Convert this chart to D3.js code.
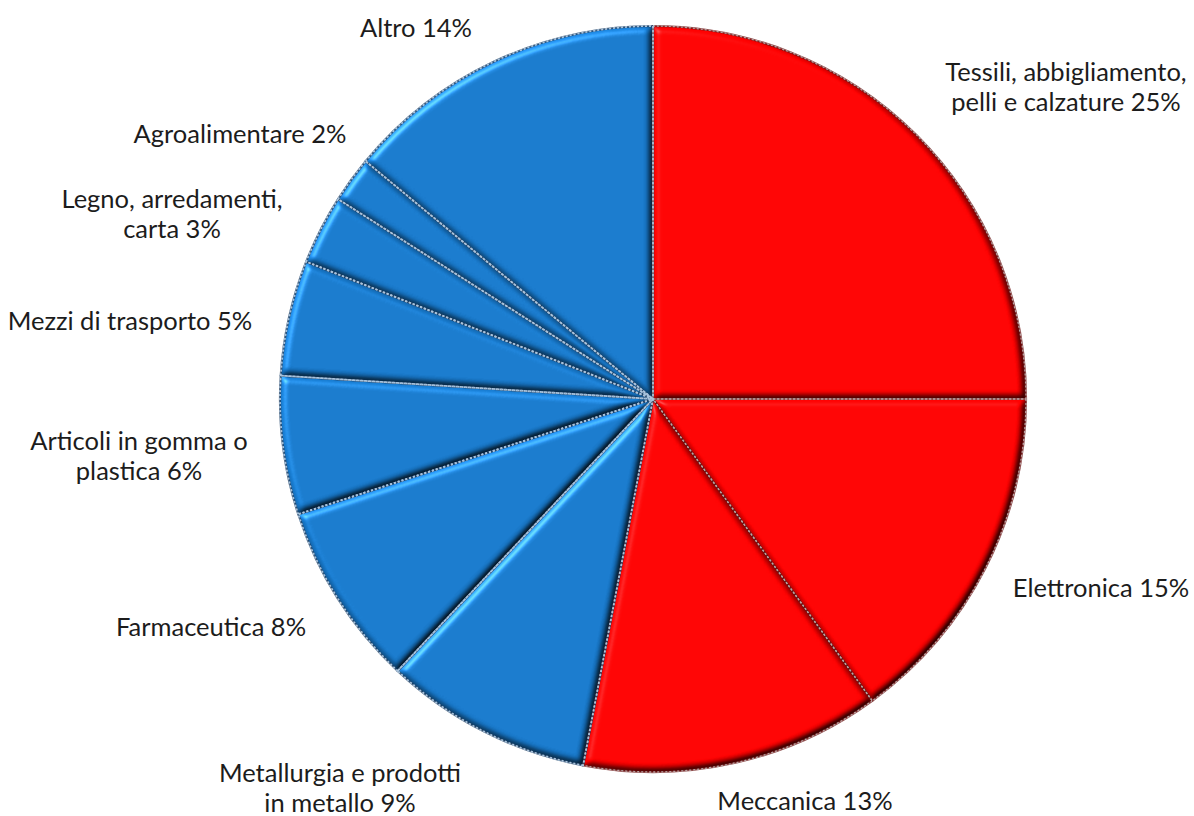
<!DOCTYPE html>
<html>
<head>
<meta charset="utf-8">
<script src="https://cdn.jsdelivr.net/npm/d3@7"></script>
<style>
  html, body { margin: 0; padding: 0; background: #fff; }
  svg { display: block; }
  .lbl { font-family: Lato, "Open Sans", sans-serif; font-size: 25.5px; fill: #1c1c1c; }
</style>
</head>
<body>
<svg id="chart" width="1194" height="816"></svg>
<script>
// Sector shares (%), clockwise from 12 o'clock
const categories = [
  "Tessili, abbigliamento, pelli e calzature",
  "Elettronica",
  "Meccanica",
  "Metallurgia e prodotti in metallo",
  "Farmaceutica",
  "Articoli in gomma o plastica",
  "Mezzi di trasporto",
  "Legno, arredamenti, carta",
  "Agroalimentare",
  "Altro"
];
const values = [25, 15, 13, 9, 8, 6, 5, 3, 2, 14];
const groups = ["A", "A", "A", "B", "B", "B", "B", "B", "B", "B"];

// Label text lines for each slice
const labelLines = [
  ["Tessili, abbigliamento,", "pelli e calzature  25%"],
  ["Elettronica 15%"],
  ["Meccanica 13%"],
  ["Metallurgia e prodotti", "in metallo 9%"],
  ["Farmaceutica 8%"],
  ["Articoli in gomma  o", "plastica 6%"],
  ["Mezzi di trasporto  5%"],
  ["Legno, arredamenti,", "carta 3%"],
  ["Agroalimentare 2%"],
  ["Altro 14%"]
];

// Label placement: [x centre, first baseline] in page pixels
const labelLayout = [
  [1066, 81], [1101, 597], [805, 810], [340, 782], [211, 636],
  [139, 450], [130, 330], [172, 208], [240, 143], [416, 37]
];
const lineStep = 30;

const width = 1194, height = 816;
const cx = 653, cy = 399, radius = 373;

const color = d3.scaleOrdinal().domain(["A", "B"]).range(["#ff0000", "#1677c9"]);
const edgeDark = d3.scaleOrdinal().domain(["A", "B"]).range(["#6e1414", "#1d3f63"]);
const edgeLight = d3.scaleOrdinal().domain(["A", "B"]).range(["#b9a3a3", "#a9c3dc"]);
const seamWidth = d3.scaleOrdinal().domain(["A", "B"]).range([1.3, 1.8]);

const svg = d3.select("#chart");
const defs = svg.append("defs");

// Bevel: shaded by the blurred alpha of each slice, with a soft specular rim
const f = defs.append("filter").attr("id", "bevel")
  .attr("x", "-5%").attr("y", "-5%").attr("width", "110%").attr("height", "110%")
  .attr("color-interpolation-filters", "sRGB");
f.append("feGaussianBlur").attr("in", "SourceAlpha").attr("stdDeviation", 3.5).attr("result", "blur");
f.append("feDiffuseLighting").attr("in", "blur").attr("surfaceScale", 5)
  .attr("diffuseConstant", 1).attr("lighting-color", "#fff").attr("result", "diff")
  .append("feDistantLight").attr("azimuth", 225).attr("elevation", 55);
f.append("feComposite").attr("in", "SourceGraphic").attr("in2", "diff")
  .attr("operator", "arithmetic").attr("k1", 1.22).attr("k2", 0).attr("k3", 0).attr("k4", 0)
  .attr("result", "shaded");
f.append("feSpecularLighting").attr("in", "blur").attr("surfaceScale", 5)
  .attr("specularConstant", 0.55).attr("specularExponent", 22)
  .attr("lighting-color", "#fff").attr("result", "spec")
  .append("feDistantLight").attr("azimuth", 225).attr("elevation", 35);
f.append("feComposite").attr("in", "spec").attr("in2", "SourceAlpha")
  .attr("operator", "in").attr("result", "specIn");
f.append("feComposite").attr("in", "shaded").attr("in2", "specIn")
  .attr("operator", "arithmetic").attr("k1", 0).attr("k2", 1).attr("k3", 0.55).attr("k4", 0)
  .attr("result", "lit");
f.append("feComposite").attr("in", "lit").attr("in2", "SourceAlpha").attr("operator", "in");

const pie = d3.pie().sort(null).value(d => d.value).startAngle(0).endAngle(2 * Math.PI);
const data = values.map((v, i) => ({ value: v, name: categories[i], group: groups[i] }));
const arcs = pie(data);
const arc = d3.arc().innerRadius(0).outerRadius(radius);

const g = svg.append("g").attr("transform", `translate(${cx},${cy})`);

g.selectAll("path.slice")
  .data(arcs)
  .join("path")
  .attr("class", "slice")
  .attr("d", arc)
  .attr("fill", d => color(d.data.group))
  .attr("filter", "url(#bevel)");

// Slice outlines: dark edge with a light dotted seam
g.selectAll("path.edge")
  .data(arcs)
  .join("path")
  .attr("class", "edge")
  .attr("d", arc)
  .attr("fill", "none")
  .attr("stroke", d => edgeDark(d.data.group))
  .attr("stroke-width", 2.2)
  .attr("stroke-opacity", 0.75)
  .attr("stroke-linejoin", "round");

g.selectAll("path.seam")
  .data(arcs)
  .join("path")
  .attr("class", "seam")
  .attr("d", arc)
  .attr("fill", "none")
  .attr("stroke", d => edgeLight(d.data.group))
  .attr("stroke-width", d => seamWidth(d.data.group))
  .attr("stroke-dasharray", "2 2");

// Labels
const lg = svg.append("g");
labelLines.forEach((lines, i) => {
  const [x, y] = labelLayout[i];
  const t = lg.append("text").attr("class", "lbl").attr("text-anchor", "middle");
  lines.forEach((ln, j) => {
    t.append("tspan").attr("x", x).attr("y", y + j * lineStep).text(ln);
  });
});
</script>
</body>
</html>
